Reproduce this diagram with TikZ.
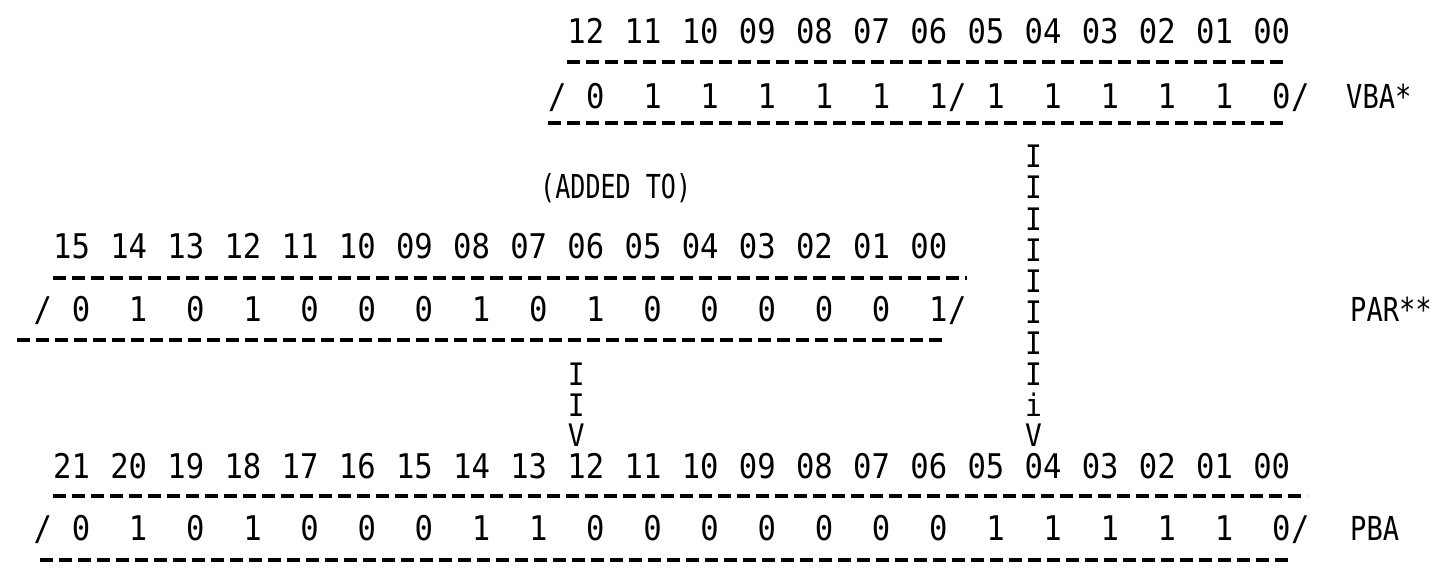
\documentclass[tikz,border=0pt]{standalone}
\usepackage{fontspec}
\newfontfamily\monof[FakeStretch=0.9]{DejaVu Sans Mono}
\newfontfamily\labf[FakeStretch=0.82]{DejaVu Sans Mono}
\newfontfamily\addf[FakeStretch=0.76]{DejaVu Sans Mono}
\begin{document}
\begin{tikzpicture}[x=1pt,y=-1pt,
  ch/.style={inner sep=0pt,anchor=base,font=\monof\fontsize{34}{40}\selectfont},
  bar/.style={inner sep=0pt,anchor=base,font=\monof\fontsize{31}{40}\selectfont},
  lab/.style={inner sep=0pt,anchor=base west,font=\labf\fontsize{33}{40}\selectfont},
  addl/.style={inner sep=0pt,anchor=base west,font=\addf\fontsize{33}{40}\selectfont},
  rule/.style={line width=4.2pt,dash pattern=on 13pt off 6pt}]
\useasboundingbox (0,0) rectangle (1453,573);
\def\px{19.05}
% ---------------- VBA ----------------
\foreach \t [count=\i from 0] in {12,11,10,09,08,07,06,05,04,03,02,01,00}
  \node[ch] (vn\i) at ({62+\px*(27+3*\i+0.5)},43) {\t};
\draw[rule] (567,62) -- (1287,62);
\node[ch] (vs0) at ({62+\px*26},108) {/};
\foreach \b [count=\i from 0] in {0,1,1,1,1,1,1,1,1,1,1,1,0}
  \node[ch] (vb\i) at ({62+\px*(28+3*\i)},108) {\b};
\node[ch] (vs1) at ({62+\px*47},108) {/};
\node[ch] (vs2) at ({62+\px*65},108) {/};
\draw[rule] (548,123) -- (1287,123);
\node[lab] (vbalab) at (1346,108) {VBA*};
% ---------------- added to ----------------
\node[addl] (added) at (540,198) {(ADDED TO)};
% ---------------- PAR ----------------
\foreach \t [count=\i from 0] in {15,14,13,12,11,10,09,08,07,06,05,04,03,02,01,00}
  \node[ch] (pn\i) at ({62+\px*(3*\i+0.5)},258) {\t};
\draw[rule] (53,278) -- (967,278);
\node[ch] (ps0) at ({62-\px},321) {/};
\foreach \b [count=\i from 0] in {0,1,0,1,0,0,0,1,0,1,0,0,0,0,0,1}
  \node[ch] (pb\i) at ({62+\px*(1+3*\i)},321) {\b};
\node[ch] (ps1) at ({62+\px*47},321) {/};
\draw[rule] (17,340) -- (947,340);
\node[lab] (parlab) at (1350,321) {PAR**};
% ---------------- arrows (typed) ----------------
\foreach \y [count=\i] in {385,416}
  \node[bar] (la\i) at ({62+\px*27},\y) {I};
\node[bar] (lv) at ({62+\px*27},446) {V};
\foreach \y [count=\i] in {167,198,230,261,292,323,354,385}
  \node[bar] (ra\i) at ({62+\px*51},\y) {I};
\node[bar] (ri) at ({62+\px*51},416) {i};
\node[bar] (rv) at ({62+\px*51},446) {V};
% ---------------- PBA ----------------
\foreach \t [count=\i from 0] in {21,20,19,18,17,16,15,14,13,12,11,10,09,08,07,06,05,04,03,02,01,00}
  \node[ch] (bn\i) at ({62+\px*(3*\i+0.5)},478) {\t};
\draw[rule] (53,496) -- (1307,496);
\node[ch] (bs0) at ({62-\px},540) {/};
\foreach \b [count=\i from 0] in {0,1,0,1,0,0,0,1,1,0,0,0,0,0,0,0,1,1,1,1,1,0}
  \node[ch] (bb\i) at ({62+\px*(1+3*\i)},540) {\b};
\node[ch] (bs1) at ({62+\px*65},540) {/};
\draw[rule] (40,560) -- (1293,560);
\node[lab] (pbalab) at (1350,540) {PBA};
\end{tikzpicture}
\end{document}
